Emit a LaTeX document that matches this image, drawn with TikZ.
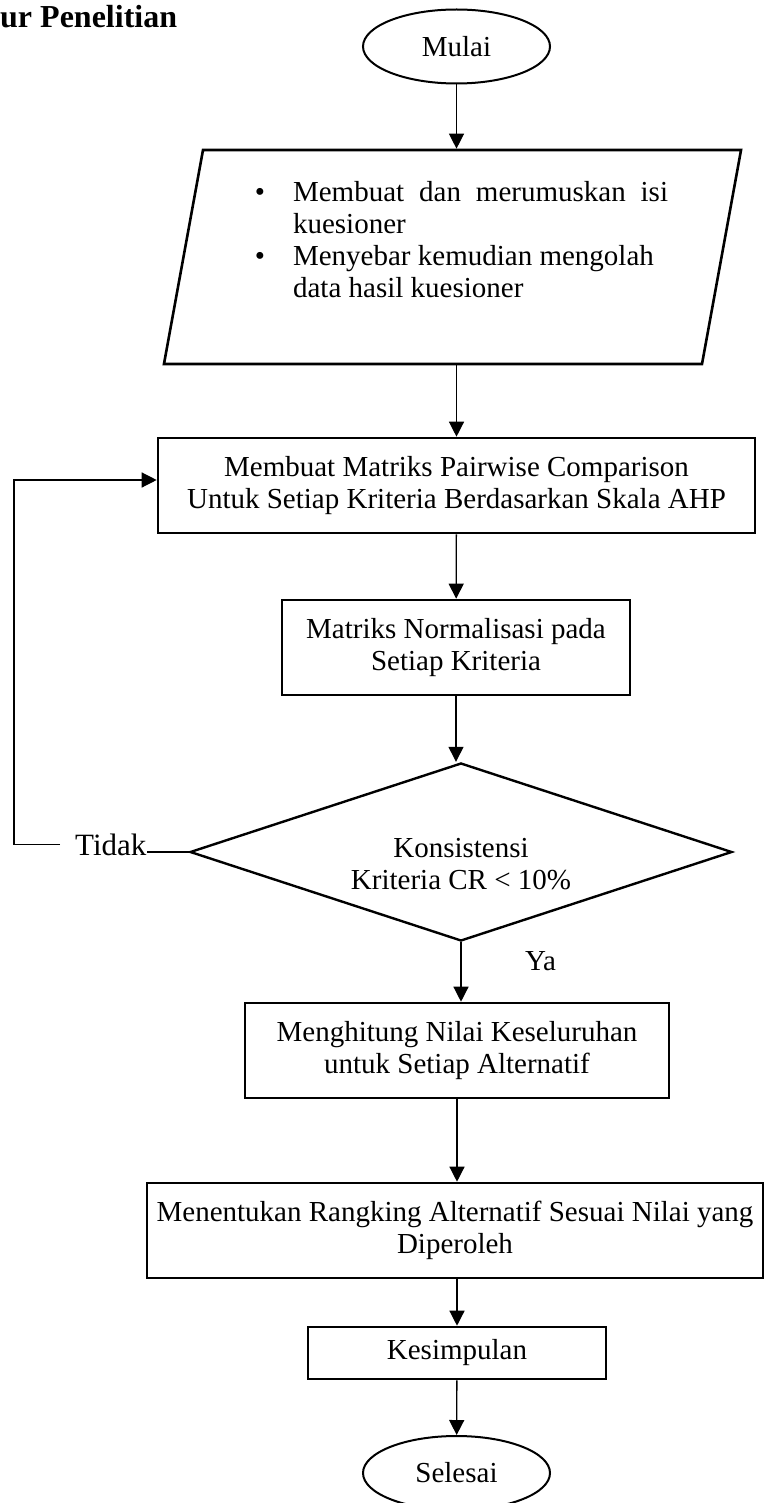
\documentclass[tikz,border=0pt]{standalone}
\usepackage{fontspec}
\setmainfont{Liberation Serif}
\usepackage{array}
\usetikzlibrary{shapes.geometric, arrows.meta}
\hyphenpenalty=10000

\begin{document}
\begin{tikzpicture}[x=1pt, y=-1pt,
  font=\fontsize{29}{32}\selectfont,
  term/.style={ellipse, draw, line width=2pt, minimum width=187pt, minimum height=74pt, inner sep=0pt},
  proc/.style={rectangle, draw, line width=2.6pt, minimum height=95pt, align=center, inner sep=0pt},
  io/.style={trapezium, draw, line width=2.6pt, trapezium left angle=77.8, trapezium right angle=102.2, trapezium stretches=true, minimum width=579pt, minimum height=214pt, inner sep=0pt},
  decision/.style={diamond, draw, line width=2.4pt, aspect=3.05, minimum width=542pt, minimum height=178pt, inner sep=0pt, align=center},
  arrow/.style={line width=1.3pt, -{Triangle[width=15pt,length=15pt]}},
  line/.style={line width=1.3pt}]

\useasboundingbox (0,0) rectangle (768,1503);

\node[anchor=base west, inner sep=0pt, font=\fontsize{32}{36}\selectfont\bfseries] (judul) at (0,28) {ur Penelitian};

\node[term] (mulai) at (456.5,46.5) {Mulai};
\node[io] (input) at (452.5,257) {\hspace{18pt}\begin{tabular}{@{}l@{\hspace{28pt}}l@{}}
\textbullet & \makebox[375pt][s]{Membuat dan merumuskan isi}\\
 & kuesioner\\
\textbullet & Menyebar kemudian mengolah\\
 & data hasil kuesioner\\[28pt]
\end{tabular}};
\node[proc, minimum width=597pt] (pairwise) at (456.5,485.5) {Membuat Matriks Pairwise Comparison\\Untuk Setiap Kriteria Berdasarkan Skala AHP};
\node[proc, minimum width=348pt] (normal) at (456,647.5) {Matriks Normalisasi pada\\Setiap Kriteria};
\node[decision] (konsist) at (461,852) {\rule{0pt}{44pt}Konsistensi\\Kriteria CR < 10\%};
\node[proc, minimum width=424pt] (hitung) at (457,1050.5) {Menghitung Nilai Keseluruhan\\untuk Setiap Alternatif};
\node[proc, minimum width=616pt] (rangking) at (455,1230.5) {Menentukan Rangking Alternatif Sesuai Nilai yang\\Diperoleh};
\node[proc, minimum width=298pt, minimum height=52pt] (simpul) at (457,1353) {Kesimpulan};
\node[term] (selesai) at (456.5,1473) {Selesai};

\node[anchor=base west, inner sep=0pt, font=\fontsize{31}{34}\selectfont] (tidak) at (75,855) {Tidak};
\node[anchor=base west, inner sep=0pt] (ya) at (525,970) {Ya};
\coordinate (tepi) at (14,480);

\draw[arrow] (mulai) -- (mulai |- input.north);
\draw[arrow] (input.south -| mulai) -- (pairwise);
\draw[arrow] (pairwise) -- (normal);
\draw[arrow] (normal) -- (normal |- konsist.north);
\draw[arrow] (konsist.south) -- (konsist.south |- hitung.north);
\draw[arrow] (hitung) -- (hitung |- rangking.north);
\draw[arrow] (rangking.south -| simpul) -- (simpul);
\draw[arrow] (simpul) -- (selesai);
\draw[line] (konsist.west) -- (tidak.east |- konsist.west);
\draw[arrow] ([xshift=-15pt]tidak.west) -| (tepi) -- (pairwise.west |- tepi);

\end{tikzpicture}
\end{document}
